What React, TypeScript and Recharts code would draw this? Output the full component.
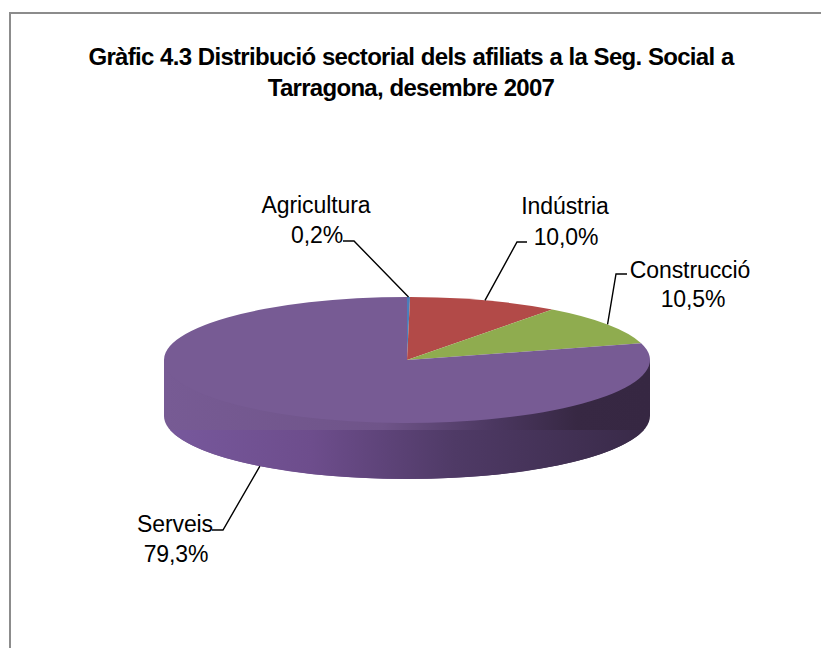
import React from 'react';
import { PieChart, Pie, Cell } from 'recharts';

const sectors = ['Agricultura', 'Indústria', 'Construcció', 'Serveis'];
const shares = [0.2, 10.0, 10.5, 79.3];
const shareLabels = ['0,2%', '10,0%', '10,5%', '79,3%'];
const colors = ['#4a7ebb', '#b24a48', '#8fac4f', '#775b94'];

const tableData = sectors.map((name, i) => ({ name, value: shares[i] }));

const W = 821;
const H = 648;
const CX = 407;
const CY = 360;
const RX = 243;
const RY = 63; // squashed top face
const DEPTH = 56;

// where each label sits and where its leader line bends
const labelBox = [
  { x: 316, y: 205, x2: 317, y2: 235 },
  { x: 565, y: 206, x2: 566, y2: 237 },
  { x: 690, y: 270, x2: 693, y2: 299 },
  { x: 175, y: 524, x2: 176, y2: 554 },
];
const elbows = [
  [[354, 241], [343, 241]],
  [[517, 242], [527, 242]],
  [[616, 274], [627, 274]],
  [[223, 530], [212, 530]],
];

const pt = (deg: number, dy = 0) => {
  const a = (deg * Math.PI) / 180;
  return [CX + RX * Math.cos(a), CY + dy - RY * Math.sin(a)];
};

const Slice = (props: any) => {
  const { startAngle, endAngle, fill } = props;
  const [sx, sy] = pt(startAngle);
  const [ex, ey] = pt(endAngle);
  const large = Math.abs(startAngle - endAngle) > 180 ? 1 : 0;
  const top = `M${CX},${CY} L${sx},${sy} A${RX},${RY} 0 ${large} 1 ${ex},${ey} Z`;
  const crossesFront = Math.min(startAngle, endAngle) < -90;
  const chord = 14;
  const cw = RX * Math.sqrt(1 - (chord / RY) ** 2);
  const by = CY + DEPTH;
  return (
    <g style={{ filter: 'blur(0.6px)' }}>
      {crossesFront && (
        <>
          <path
            d={`M${CX - RX},${CY} L${CX - RX},${by} A${RX},${RY} 0 0 0 ${CX + RX},${by} L${CX + RX},${CY} Z`}
            fill="url(#wallGrad)"
          />
          <path
            d={`M${CX - cw},${by + chord} A${RX},${RY} 0 0 0 ${CX + cw},${by + chord} Z`}
            fill="url(#lipGrad)"
          />
        </>
      )}
      <path d={top} fill={fill} />
    </g>
  );
};

const textStyle = { fontFamily: '"Liberation Sans", Arial, sans-serif', fontSize: 23, letterSpacing: -0.1, fill: '#000' };

const SliceLabel = (props: any) => {
  const i = props.index;
  const b = labelBox[i];
  return (
    <g>
      <text x={b.x} y={b.y} dy="0.35em" textAnchor="middle" style={textStyle}>{sectors[i]}</text>
      <text x={b.x2} y={b.y2} dy="0.35em" textAnchor="middle" style={textStyle}>{shareLabels[i]}</text>
    </g>
  );
};

const LeaderLine = (props: any) => {
  const i = props.index;
  const [px, py] = pt(props.midAngle, i === 3 ? DEPTH : 0);
  const [bend, end] = elbows[i];
  return (
    <polyline
      points={`${px},${py} ${bend[0]},${bend[1]} ${end[0]},${end[1]}`}
      fill="none"
      stroke="#000"
      strokeWidth={1.4}
    />
  );
};

export default function App() {
  return (
    <div style={{ position: 'absolute', left: 0, top: 0, width: W, height: H, background: '#fff', overflow: 'hidden' }}>
      <div style={{ position: 'absolute', left: 9, top: 12, width: W, height: H, borderLeft: '2px solid #8c8c8c', borderTop: '2px solid #8c8c8c' }} />
      <div
        style={{
          position: 'absolute',
          left: 11,
          width: 800,
          top: 41,
          textAlign: 'center',
          fontFamily: '"Liberation Sans", Arial, sans-serif',
          fontWeight: 'bold',
          fontSize: 24,
          lineHeight: '31px',
          letterSpacing: -0.7,
          wordSpacing: 0.5,
          color: '#000',
        }}
      >
        Gràfic 4.3 Distribució sectorial dels afiliats a la Seg. Social a
        <br />
        Tarragona, desembre 2007
      </div>
      <PieChart width={W} height={H} style={{ position: 'absolute', left: 0, top: 0 }}>
        <defs>
          <linearGradient id="wallGrad" x1="0" y1="0" x2="1" y2="0">
            <stop offset="0%" stopColor="#775b94" />
            <stop offset="45%" stopColor="#6f5489" />
            <stop offset="68%" stopColor="#4b3760" />
            <stop offset="85%" stopColor="#372843" />
            <stop offset="100%" stopColor="#362742" />
          </linearGradient>
          <linearGradient id="lipGrad" x1="0" y1="0" x2="1" y2="0">
            <stop offset="0%" stopColor="#77589c" />
            <stop offset="30%" stopColor="#6d4d8c" />
            <stop offset="60%" stopColor="#4f3a66" />
            <stop offset="100%" stopColor="#392a48" />
          </linearGradient>
        </defs>
        <Pie
          data={tableData}
          dataKey="value"
          nameKey="name"
          cx={CX}
          cy={CY}
          outerRadius={RX}
          startAngle={90}
          endAngle={-270}
          stroke="none"
          shape={Slice}
          label={SliceLabel}
          labelLine={LeaderLine}
          isAnimationActive={false}
        >
          {tableData.map((d, i) => (
            <Cell key={d.name} fill={colors[i]} />
          ))}
        </Pie>
      </PieChart>
    </div>
  );
}
